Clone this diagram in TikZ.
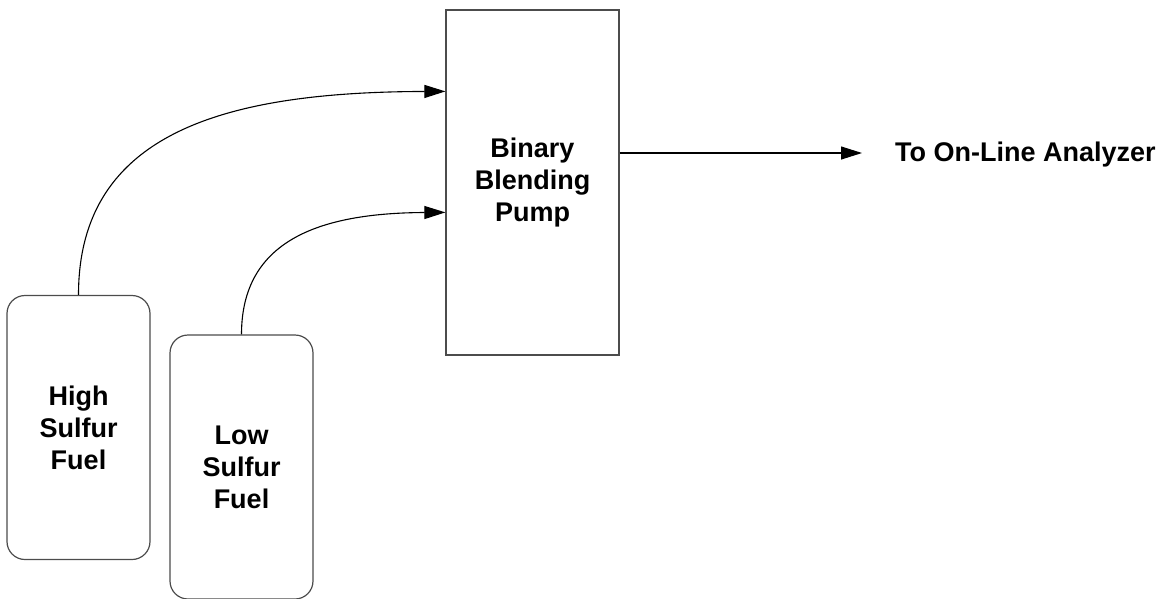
\documentclass[tikz,border=0pt]{standalone}
\usepackage{fontspec}
\setmainfont{Liberation Sans}
\usetikzlibrary{arrows.meta}
\begin{document}
\begin{tikzpicture}[x=1pt,y=-1pt,
  txt/.style={font=\fontsize{27}{32}\selectfont\bfseries, align=center},
  tank/.style={draw=black!70, line width=1.2pt, rounded corners=18pt, minimum width=143pt, minimum height=264pt, inner sep=0pt, txt},
  pumpbox/.style={draw=black!70, line width=1.2pt, minimum width=173pt, minimum height=345pt, inner sep=0pt, txt},
  flow/.style={line width=1.1pt, -{Triangle[length=21pt,width=13pt]}}]
\useasboundingbox (0,0) rectangle (1160,598);
\node[tank] (high) at (78.5,427.5) {High\\Sulfur\\Fuel};
\node[tank] (low) at (241.5,467) {Low\\Sulfur\\Fuel};
\node[pumpbox] (pump) at (532.5,182.5) {Binary\\Blending\\Pump};
\node[txt, anchor=base west, inner sep=0pt] (dest) at (895,161) {To On-Line Analyzer};
\draw[flow] (high.north) .. controls (78.5,130) and (230,92) .. ([yshift=-82pt]pump.north west);
\draw[flow] (low.north) .. controls (241.5,240) and (320,213) .. ([yshift=-203pt]pump.north west);
\draw[flow] ([yshift=29.5pt]pump.east) -- ([xshift=-33pt,yshift=8pt]dest.base west);
\end{tikzpicture}
\end{document}
